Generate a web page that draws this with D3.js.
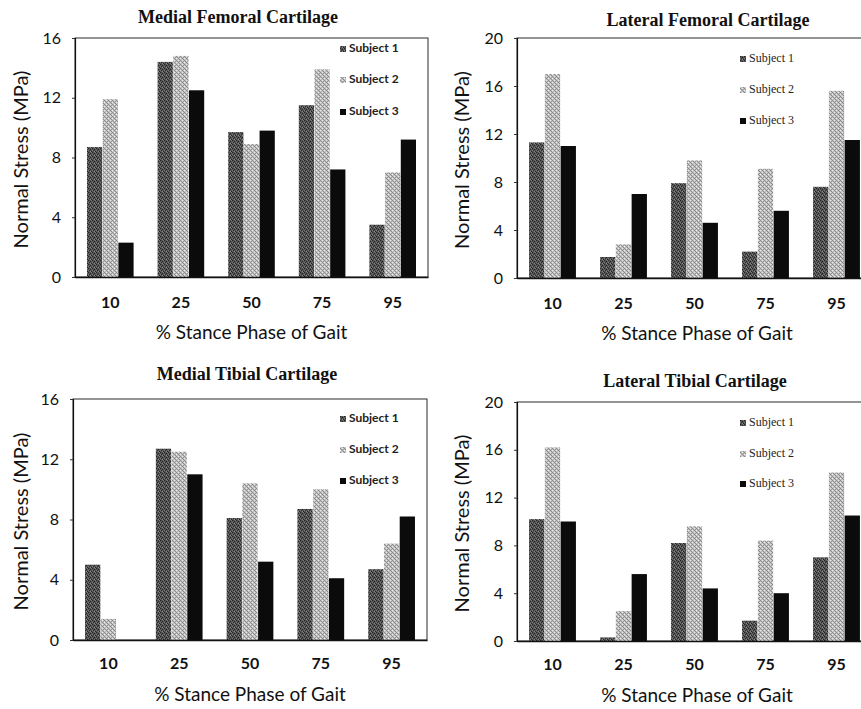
<!DOCTYPE html>
<html>
<head>
<meta charset="utf-8">
<script src="https://cdn.jsdelivr.net/npm/d3@7"></script>
<style>
  body { margin: 0; background: #fff; }
  svg { display: block; }
</style>
</head>
<body>
<svg id="chart" width="861" height="709"></svg>
<script>
// Stance phase categories and subjects
const stancePhases = ["10", "25", "50", "75", "95"];
const subjects = ["Subject 1", "Subject 2", "Subject 3"];

// Normal stress (MPa), one row per subject, one value per stance phase
const medialFemoral = [
  [8.7, 14.4, 9.7, 11.5, 3.5],
  [11.9, 14.8, 8.9, 13.9, 7.0],
  [2.3, 12.5, 9.8, 7.2, 9.2]
];
const lateralFemoral = [
  [11.3, 1.75, 7.9, 2.2, 7.6],
  [17.0, 2.8, 9.8, 9.1, 15.6],
  [11.0, 7.0, 4.6, 5.6, 11.5]
];
const medialTibial = [
  [5.0, 12.7, 8.1, 8.7, 4.7],
  [1.4, 12.5, 10.4, 10.0, 6.4],
  [0, 11.0, 5.2, 4.1, 8.2]
];
const lateralTibial = [
  [10.2, 0.3, 8.2, 1.7, 7.0],
  [16.2, 2.5, 9.6, 8.4, 14.1],
  [10.0, 5.6, 4.4, 4.0, 10.5]
];

// y-axis ticks
const ticks16 = [0, 4, 8, 12, 16];
const ticks20 = [0, 4, 8, 12, 16, 20];

const svg = d3.select("#chart");
const defs = svg.append("defs");

// Grainy fills for the two grey series
function makePattern(id, base, dots) {
  const p = defs.append("pattern")
    .attr("id", id)
    .attr("patternUnits", "userSpaceOnUse")
    .attr("width", 4).attr("height", 4);
  p.append("rect").attr("width", 4).attr("height", 4).attr("fill", base);
  dots.forEach(([x, y, c]) => {
    p.append("rect").attr("x", x).attr("y", y).attr("width", 1).attr("height", 1).attr("fill", c);
  });
}
makePattern("fillS1", "#555", [
  [0, 0, "#222"], [2, 1, "#222"], [1, 2, "#2a2a2a"], [3, 3, "#222"],
  [2, 3, "#8a8a8a"], [0, 2, "#7a7a7a"], [3, 0, "#777"]
]);
makePattern("fillS2", "#c2c2c2", [
  [0, 0, "#888"], [1, 1, "#8c8c8c"], [2, 2, "#888"], [3, 3, "#8c8c8c"],
  [2, 0, "#e8e8e8"], [0, 2, "#eee"], [3, 1, "#9a9a9a"]
]);
const fills = ["url(#fillS1)", "url(#fillS2)", "#0b0b0b"];

const panels = [
  { title: "Medial Femoral Cartilage", data: medialFemoral, max: 16, ticks: ticks16,
    left: 75, right: 428, top: 38, bottom: 277, titleX: 238, titleY: 23,
    yLabelX: 23, xTickY: 304, xTitleY: 334, legendX: 343, legendY: [49, 80, 112],
    legendFont: "Lato", legendWeight: "bold" },
  { title: "Lateral Femoral Cartilage", data: lateralFemoral, max: 20, ticks: ticks20,
    left: 517, right: 872, top: 38, bottom: 278, titleX: 708, titleY: 26,
    yLabelX: 464, xTickY: 305, xTitleY: 335, legendX: 743, legendY: [59, 90, 121],
    legendFont: "Liberation Serif", legendWeight: "normal" },
  { title: "Medial Tibial Cartilage", data: medialTibial, max: 16, ticks: ticks16,
    left: 73, right: 427, top: 399, bottom: 640, titleX: 247, titleY: 380,
    yLabelX: 23, xTickY: 665, xTitleY: 696, legendX: 343, legendY: [419, 450, 481],
    legendFont: "Lato", legendWeight: "bold" },
  { title: "Lateral Tibial Cartilage", data: lateralTibial, max: 20, ticks: ticks20,
    left: 517, right: 872, top: 402, bottom: 641, titleX: 695, titleY: 387,
    yLabelX: 464, xTickY: 666, xTitleY: 697, legendX: 743, legendY: [423, 454, 484],
    legendFont: "Liberation Serif", legendWeight: "normal" }
];

panels.forEach(p => {
  const g = svg.append("g");
  const x = d3.scaleBand().domain(stancePhases).range([p.left, p.right]).paddingInner(0.34).paddingOuter(0.17);
  const xs = d3.scaleBand().domain(d3.range(subjects.length)).range([0, x.bandwidth()]).paddingInner(0.03);
  const y = d3.scaleLinear().domain([0, p.max]).range([p.bottom, p.top]);

  // plot frame
  g.append("rect")
    .attr("x", p.left).attr("y", p.top)
    .attr("width", p.right - p.left).attr("height", p.bottom - p.top)
    .attr("fill", "none").attr("stroke", "#2a2a2a").attr("stroke-width", 1);

  // bars
  p.data.forEach((series, si) => {
    g.selectAll(null).data(series).join("rect")
      .attr("x", (d, i) => x(stancePhases[i]) + xs(si))
      .attr("y", d => y(d))
      .attr("width", xs.bandwidth())
      .attr("height", d => y(0) - y(d))
      .attr("fill", fills[si]);
  });

  // y axis
  const yAxis = d3.axisLeft(y).tickValues(p.ticks).tickSize(3).tickPadding(11).tickFormat(d3.format("d"));
  const ya = g.append("g").attr("transform", `translate(${p.left},0)`).call(yAxis);
  ya.select(".domain").attr("stroke", "#111").attr("stroke-width", 1.2);
  ya.selectAll("line").attr("stroke", "#333");
  ya.selectAll("text").attr("font-family", "Lato").attr("font-weight", "normal")
    .attr("font-size", 16).attr("fill", "#111");

  // x axis
  const xAxis = d3.axisBottom(x).tickSize(0).tickPadding(0);
  const xa = g.append("g").attr("transform", `translate(0,${p.bottom})`).call(xAxis);
  xa.select(".domain").attr("stroke", "#111").attr("stroke-width", 1.6);
  xa.selectAll("text").attr("font-family", "Lato").attr("font-weight", "bold")
    .attr("font-size", 16).attr("fill", "#111")
    .attr("dy", null).attr("y", p.xTickY - p.bottom).attr("dominant-baseline", "middle");

  // titles
  g.append("text").attr("x", p.titleX).attr("y", p.titleY)
    .attr("text-anchor", "middle").attr("font-family", "Liberation Serif")
    .attr("font-weight", "bold").attr("font-size", 18).attr("fill", "#111").text(p.title);
  g.append("text")
    .attr("transform", `translate(${p.yLabelX},${(p.top + p.bottom) / 2 + 2}) rotate(-90)`)
    .attr("text-anchor", "middle").attr("dominant-baseline", "middle")
    .attr("font-family", "Lato").attr("font-size", 20).attr("fill", "#111")
    .text("Normal Stress (MPa)");
  g.append("text").attr("x", (p.left + Math.min(p.right, 861)) / 2 + (p.right > 861 ? 8 : 0)).attr("y", p.xTitleY)
    .attr("text-anchor", "middle").attr("dominant-baseline", "middle")
    .attr("font-family", "Lato").attr("font-size", 19).attr("fill", "#111")
    .text("% Stance Phase of Gait");

  // legend
  const lg = g.append("g");
  subjects.forEach((s, si) => {
    lg.append("rect").attr("x", p.legendX - 3).attr("y", p.legendY[si] - 3)
      .attr("width", 6).attr("height", 6).attr("fill", fills[si]);
    lg.append("text").attr("x", p.legendX + 6).attr("y", p.legendY[si])
      .attr("dominant-baseline", "middle")
      .attr("font-family", p.legendFont).attr("font-size", 12)
      .attr("font-weight", p.legendWeight)
      .attr("fill", "#222").text(s);
  });
});
</script>
</body>
</html>
